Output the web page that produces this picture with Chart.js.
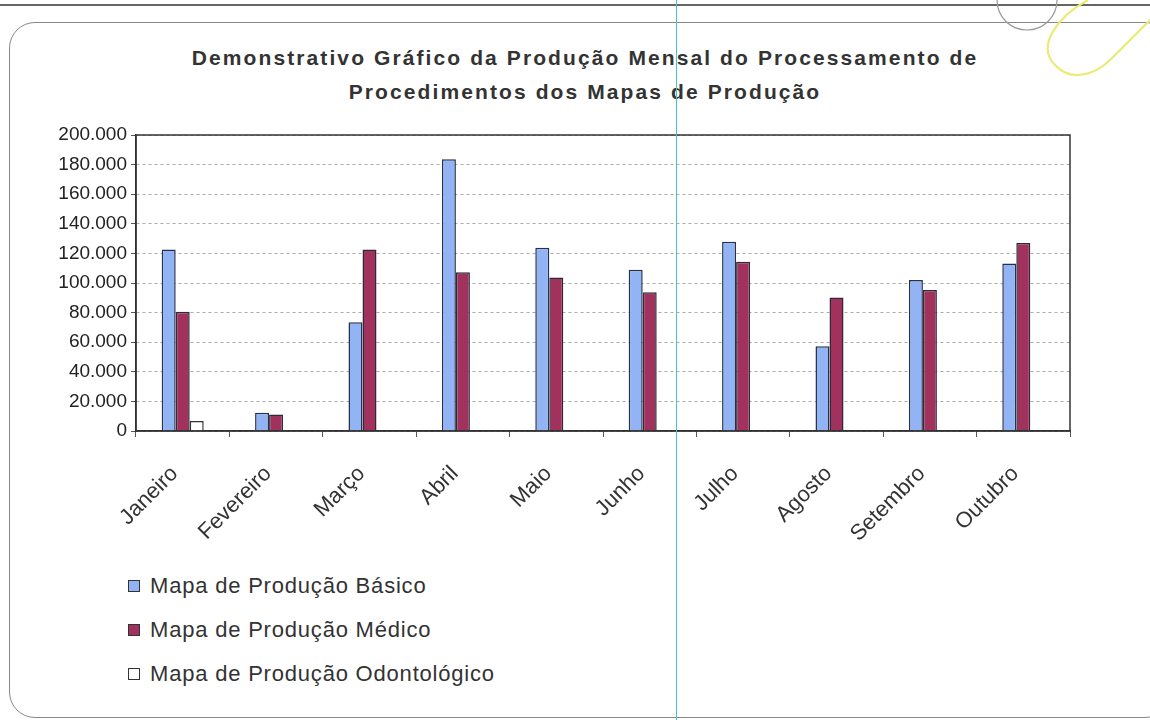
<!DOCTYPE html>
<html>
<head>
<meta charset="utf-8">
<script src="https://cdn.jsdelivr.net/npm/chart.js@4"></script>
<style>
  body { margin: 0; background: #fff; font-family: "Liberation Sans", Arial, sans-serif; }
  #pagina { position: relative; width: 1150px; height: 720px; overflow: hidden; background: #fff; }
  #linhaTopo { position: absolute; left: 0; top: 4px; width: 1150px; height: 0; border-top: 2px solid #666; }
  #moldura { position: absolute; left: 9px; top: 22px; width: 1160px; height: 694px; border: 1.5px solid #888; border-radius: 26px; }
  #linhaCiano { position: absolute; left: 676px; top: 0; width: 1px; height: 720px; background: #3cc8d0; }
  #rabisco { position: absolute; left: 0; top: 0; }
  #titulo { position: absolute; left: 20px; top: 41px; width: 1130px; text-align: center; font-weight: bold; font-size: 21px; line-height: 34px; letter-spacing: 2.1px; color: #333; }
  #caixaGrafico { position: absolute; left: 20px; top: 0; width: 1130px; height: 560px; }
  #legenda { position: absolute; left: 128px; top: 564px; font-size: 22px; letter-spacing: 0.8px; color: #333; }
  #legenda div { height: 44px; display: flex; align-items: center; }
  #legenda span.cx { display: inline-block; width: 10px; height: 10px; border: 1.5px solid #333; margin-right: 10px; }
</style>
</head>
<body>
<div id="pagina">
  <div id="linhaTopo"></div>
  <div id="moldura"></div>
  <svg id="rabisco" width="1150" height="720">
    <path d="M 997 0 A 30 30 0 0 0 1057 0" fill="none" stroke="#999" stroke-width="1.2"/>
    <path d="M 1088 0 C 1060 15, 1035 45, 1055 65 C 1070 82, 1095 75, 1110 60 L 1150 20" fill="none" stroke="#eaea70" stroke-width="2"/>
  </svg>
  <div id="titulo">Demonstrativo Gráfico da Produção Mensal do Processamento de<br>Procedimentos dos Mapas de Produção</div>
  <div id="caixaGrafico"><canvas id="meuGrafico"></canvas></div>
  <div id="legenda"></div>
  <div id="linhaCiano"></div>
</div>
<script>
const meses = ["Janeiro", "Fevereiro", "Março", "Abril", "Maio", "Junho", "Julho", "Agosto", "Setembro", "Outubro"];
const basico = [122700, 12400, 73500, 183600, 123800, 108900, 127800, 57300, 102100, 113200];
const medico = [80500, 11100, 122700, 107300, 103700, 93800, 114300, 90200, 95200, 127000];
const odontologico = [6800, null, null, null, null, null, null, null, null, null];
const series = ["Mapa de Produção Básico", "Mapa de Produção Médico", "Mapa de Produção Odontológico"];

function formatar(v) {
    return String(v).replace(/\B(?=(\d{3})+(?!\d))/g, ".");
}

const molduraPlot = {
    id: 'molduraPlot',
    afterDraw(chart) {
        const a = chart.chartArea;
        const c = chart.ctx;
        c.save();
        c.strokeStyle = '#333';
        c.lineWidth = 1.5;
        c.strokeRect(a.left, a.top, a.right - a.left, a.bottom - a.top);
        c.restore();
    }
};

document.addEventListener("DOMContentLoaded", function () {
    const ctx = document.getElementById('meuGrafico').getContext('2d');

    const dados = {
        labels: meses,
        datasets: [{
            label: series[0],
            data: basico,
            backgroundColor: '#92b4f4',
            borderColor: '#26304a',
            borderWidth: 1.5
        }, {
            label: series[1],
            data: medico,
            backgroundColor: '#a1325e',
            borderColor: '#2d2a3a',
            borderWidth: 1.5
        }, {
            label: series[2],
            data: odontologico,
            backgroundColor: '#ffffff',
            borderColor: '#333',
            borderWidth: 1.5
        }]
    };

    const config = {
        type: 'bar',
        data: dados,
        plugins: [molduraPlot],
        options: {
            responsive: true,
            maintainAspectRatio: false,
            animation: false,
            layout: { padding: { left: 36, right: 80, top: 135, bottom: 4 } },
            datasets: { bar: { categoryPercentage: 0.45, barPercentage: 1.0 } },
            plugins: {
                legend: { display: false },
                tooltip: { enabled: false },
                title: { display: false }
            },
            scales: {
                y: {
                    min: 0,
                    max: 200000,
                    afterFit: function (s) { s.width = 80; },
                    ticks: {
                        stepSize: 20000,
                        color: '#222',
                        padding: 4,
                        font: { family: "Liberation Sans", size: 19 },
                        callback: function (v) { return formatar(v); }
                    },
                    grid: { color: '#aaa', lineWidth: 1, tickLength: 5, tickColor: '#555' },
                    border: { color: '#333', width: 1.5, dash: [3, 3] }
                },
                x: {
                    afterFit: function (s) { s.height = 125; },
                    ticks: {
                        color: '#333',
                        maxRotation: 45,
                        minRotation: 45,
                        padding: 24,
                        labelOffset: -8,
                        font: { family: "Liberation Sans", size: 22 }
                    },
                    grid: { drawOnChartArea: false, tickLength: 6, tickColor: '#555', offset: true },
                    border: { color: '#333', width: 1.5 }
                }
            }
        }
    };

    const grafico = new Chart(ctx, config);

    const leg = document.getElementById('legenda');
    grafico.data.datasets.forEach(function (ds) {
        const linha = document.createElement('div');
        const cx = document.createElement('span');
        cx.className = 'cx';
        cx.style.background = ds.backgroundColor;
        linha.appendChild(cx);
        linha.appendChild(document.createTextNode(ds.label));
        leg.appendChild(linha);
    });
});
</script>
</body>
</html>
